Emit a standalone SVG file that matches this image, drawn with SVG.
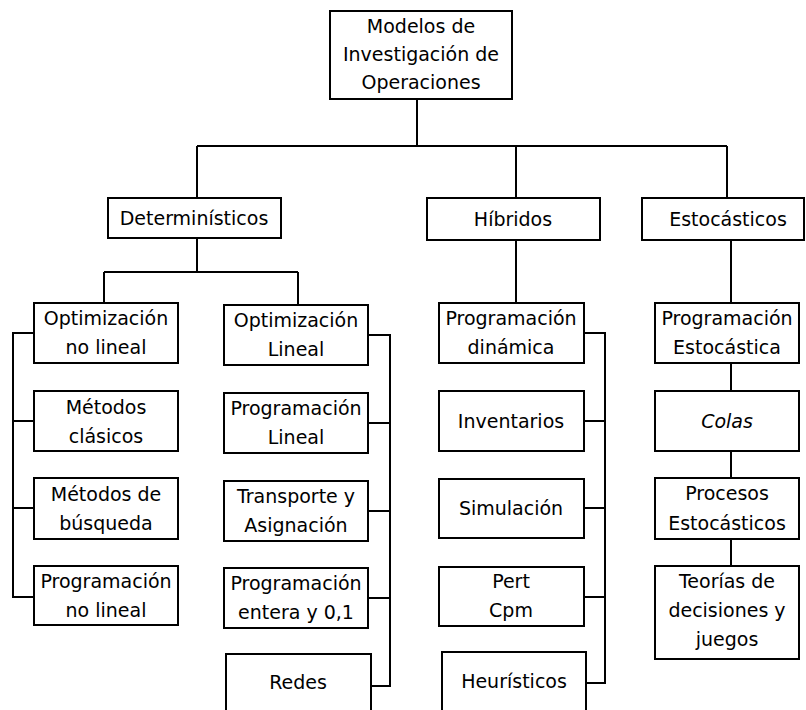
<svg xmlns="http://www.w3.org/2000/svg" width="806" height="710" viewBox="0 0 806 710">
  <style>
    .box { fill: #ffffff; stroke: #000000; stroke-width: 2; }
    .lbl { font-family: "DejaVu Sans", "Liberation Sans", sans-serif; font-size: 19px; fill: #000000; text-anchor: middle; }
    .it { font-style: italic; }
    #connectors path { fill: none; stroke: #000000; stroke-width: 2; }
  </style>
  <rect width="806" height="710" fill="#ffffff"/>

  <g id="connectors">
    <path d="M417 99 V146 M197 146 H727 M197 146 V198 M516 146 V198 M727 146 V198"/>
    <path d="M197 238 V272 M104 272 H298 M104 272 V303 M298 272 V305"/>
    <path d="M34 333 H13 V597 H34 M13 421 H34 M13 508 H34"/>
    <path d="M368 335 H390 V686 H371 M368 423 H390 M368 511 H390 M368 598 H390"/>
    <path d="M516 240 V303"/>
    <path d="M584 333 H605 V683 H586 M584 421 H605 M584 508 H605 M584 597 H605"/>
    <path d="M731 240 V303 M731 363 V391 M731 451 V478 M731 539 V566"/>
  </g>

  <g id="root">
    <rect class="box" x="330" y="11" width="182" height="88"/>
    <text class="lbl" x="421" y="33">Modelos de</text>
    <text class="lbl" x="421" y="61">Investigación de</text>
    <text class="lbl" x="421" y="89">Operaciones</text>
  </g>

  <g id="deterministicos">
    <rect class="box" x="108" y="198" width="173" height="40"/>
    <text class="lbl" x="194" y="225">Determinísticos</text>
  </g>
  <g id="hibridos">
    <rect class="box" x="427" y="198" width="173" height="42"/>
    <text class="lbl" x="513" y="226">Híbridos</text>
  </g>
  <g id="estocasticos">
    <rect class="box" x="642" y="198" width="162" height="42"/>
    <text class="lbl" x="728" y="226">Estocásticos</text>
  </g>

  <!-- Non-linear optimisation column -->
  <g id="opt-no-lineal">
    <rect class="box" x="34" y="303" width="144" height="60"/>
    <text class="lbl" x="106" y="325">Optimización</text>
    <text class="lbl" x="106" y="354">no lineal</text>
  </g>
  <g id="metodos-clasicos">
    <rect class="box" x="34" y="391" width="144" height="60"/>
    <text class="lbl" x="106" y="414">Métodos</text>
    <text class="lbl" x="106" y="443">clásicos</text>
  </g>
  <g id="metodos-busqueda">
    <rect class="box" x="34" y="478" width="144" height="61"/>
    <text class="lbl" x="106" y="501">Métodos de</text>
    <text class="lbl" x="106" y="530">búsqueda</text>
  </g>
  <g id="prog-no-lineal">
    <rect class="box" x="34" y="566" width="144" height="59"/>
    <text class="lbl" x="106" y="588">Programación</text>
    <text class="lbl" x="106" y="617">no lineal</text>
  </g>

  <!-- Linear optimisation column -->
  <g id="opt-lineal">
    <rect class="box" x="224" y="305" width="144" height="60"/>
    <text class="lbl" x="296" y="327">Optimización</text>
    <text class="lbl" x="296" y="356">Lineal</text>
  </g>
  <g id="prog-lineal">
    <rect class="box" x="224" y="393" width="144" height="60"/>
    <text class="lbl" x="296" y="415">Programación</text>
    <text class="lbl" x="296" y="444">Lineal</text>
  </g>
  <g id="transporte">
    <rect class="box" x="224" y="481" width="144" height="60"/>
    <text class="lbl" x="296" y="503">Transporte y</text>
    <text class="lbl" x="296" y="532">Asignación</text>
  </g>
  <g id="prog-entera">
    <rect class="box" x="224" y="568" width="144" height="60"/>
    <text class="lbl" x="296" y="590">Programación</text>
    <text class="lbl" x="296" y="619">entera y 0,1</text>
  </g>
  <g id="redes">
    <rect class="box" x="226" y="654" width="145" height="62"/>
    <text class="lbl" x="298" y="689">Redes</text>
  </g>

  <!-- Hybrid column -->
  <g id="prog-dinamica">
    <rect class="box" x="439" y="303" width="145" height="60"/>
    <text class="lbl" x="511" y="325">Programación</text>
    <text class="lbl" x="511" y="354">dinámica</text>
  </g>
  <g id="inventarios">
    <rect class="box" x="439" y="391" width="145" height="60"/>
    <text class="lbl" x="511" y="428">Inventarios</text>
  </g>
  <g id="simulacion">
    <rect class="box" x="439" y="479" width="145" height="59"/>
    <text class="lbl" x="511" y="515">Simulación</text>
  </g>
  <g id="pert-cpm">
    <rect class="box" x="439" y="567" width="145" height="59"/>
    <text class="lbl" x="511" y="588">Pert</text>
    <text class="lbl" x="511" y="617">Cpm</text>
  </g>
  <g id="heuristicos">
    <rect class="box" x="442" y="652" width="144" height="64"/>
    <text class="lbl" x="514" y="688">Heurísticos</text>
  </g>

  <!-- Stochastic column -->
  <g id="prog-estocastica">
    <rect class="box" x="655" y="303" width="144" height="60"/>
    <text class="lbl" x="727" y="325">Programación</text>
    <text class="lbl" x="727" y="354">Estocástica</text>
  </g>
  <g id="colas">
    <rect class="box" x="655" y="391" width="144" height="60"/>
    <text class="lbl it" x="727" y="428">Colas</text>
  </g>
  <g id="procesos">
    <rect class="box" x="655" y="478" width="144" height="61"/>
    <text class="lbl" x="727" y="500">Procesos</text>
    <text class="lbl" x="727" y="530">Estocásticos</text>
  </g>
  <g id="teorias">
    <rect class="box" x="655" y="566" width="144" height="93"/>
    <text class="lbl" x="727" y="588">Teorías de</text>
    <text class="lbl" x="727" y="617">decisiones y</text>
    <text class="lbl" x="727" y="646">juegos</text>
  </g>
</svg>
